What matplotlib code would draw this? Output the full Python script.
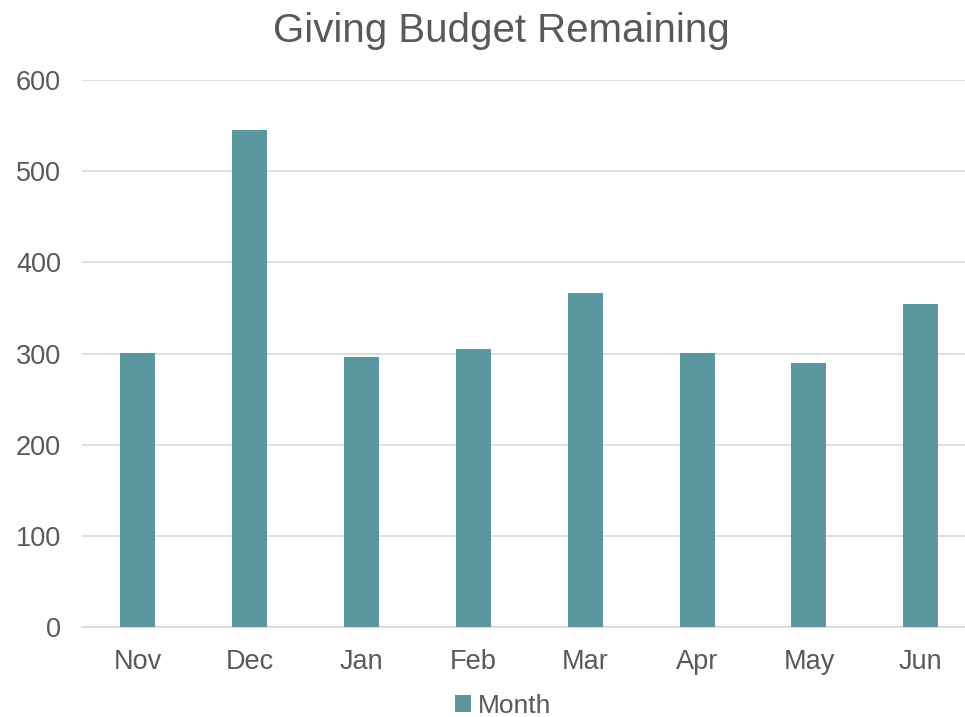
import matplotlib.pyplot as plt
from matplotlib.patches import Patch

months = ['Nov', 'Dec', 'Jan', 'Feb', 'Mar', 'Apr', 'May', 'Jun']
remaining = [301, 545, 296, 305, 366, 301, 290, 354]

bar_color = '#5B979F'
text_color = '#595959'
grid_color = '#D9D9D9'

plt.rcParams['font.family'] = ['Liberation Sans', 'DejaVu Sans']

fig = plt.figure(figsize=(9.65, 7.17), dpi=100)
ax = fig.add_axes([82 / 965, 90 / 717, 1 - 82 / 965, (627 - 80) / 717])

x = range(len(months))
ax.bar(x, remaining, width=0.313, color=bar_color, zorder=3)

ax.set_xlim(-0.5, 7.395)
ax.set_ylim(0, 600)
ax.set_yticks(range(0, 601, 100))
ax.set_xticks(list(x))
ax.set_xticklabels(months)

ax.yaxis.grid(True, color=grid_color, linewidth=1.2, zorder=0)
for s in ['top', 'right', 'left']:
    ax.spines[s].set_visible(False)
ax.spines['bottom'].set_color(grid_color)
ax.spines['bottom'].set_linewidth(1.2)
ax.tick_params(axis='both', length=0, labelsize=19.5, colors=text_color)
ax.tick_params(axis='y', pad=15)
ax.tick_params(axis='x', pad=16)

fig.text(501 / 965, 1 - 31 / 717, 'Giving Budget Remaining', ha='center', va='center',
         fontsize=29, color=text_color)

handle = Patch(facecolor=bar_color, label='Month')
fig.legend(handles=[handle], loc='center', bbox_to_anchor=(503 / 965, 1 - 706 / 717),
           frameon=False, fontsize=19, labelcolor=text_color, handlelength=0.6,
           handleheight=0.6, handletextpad=0.25, borderpad=0, borderaxespad=0)

fig.savefig('out.png', dpi=100)
